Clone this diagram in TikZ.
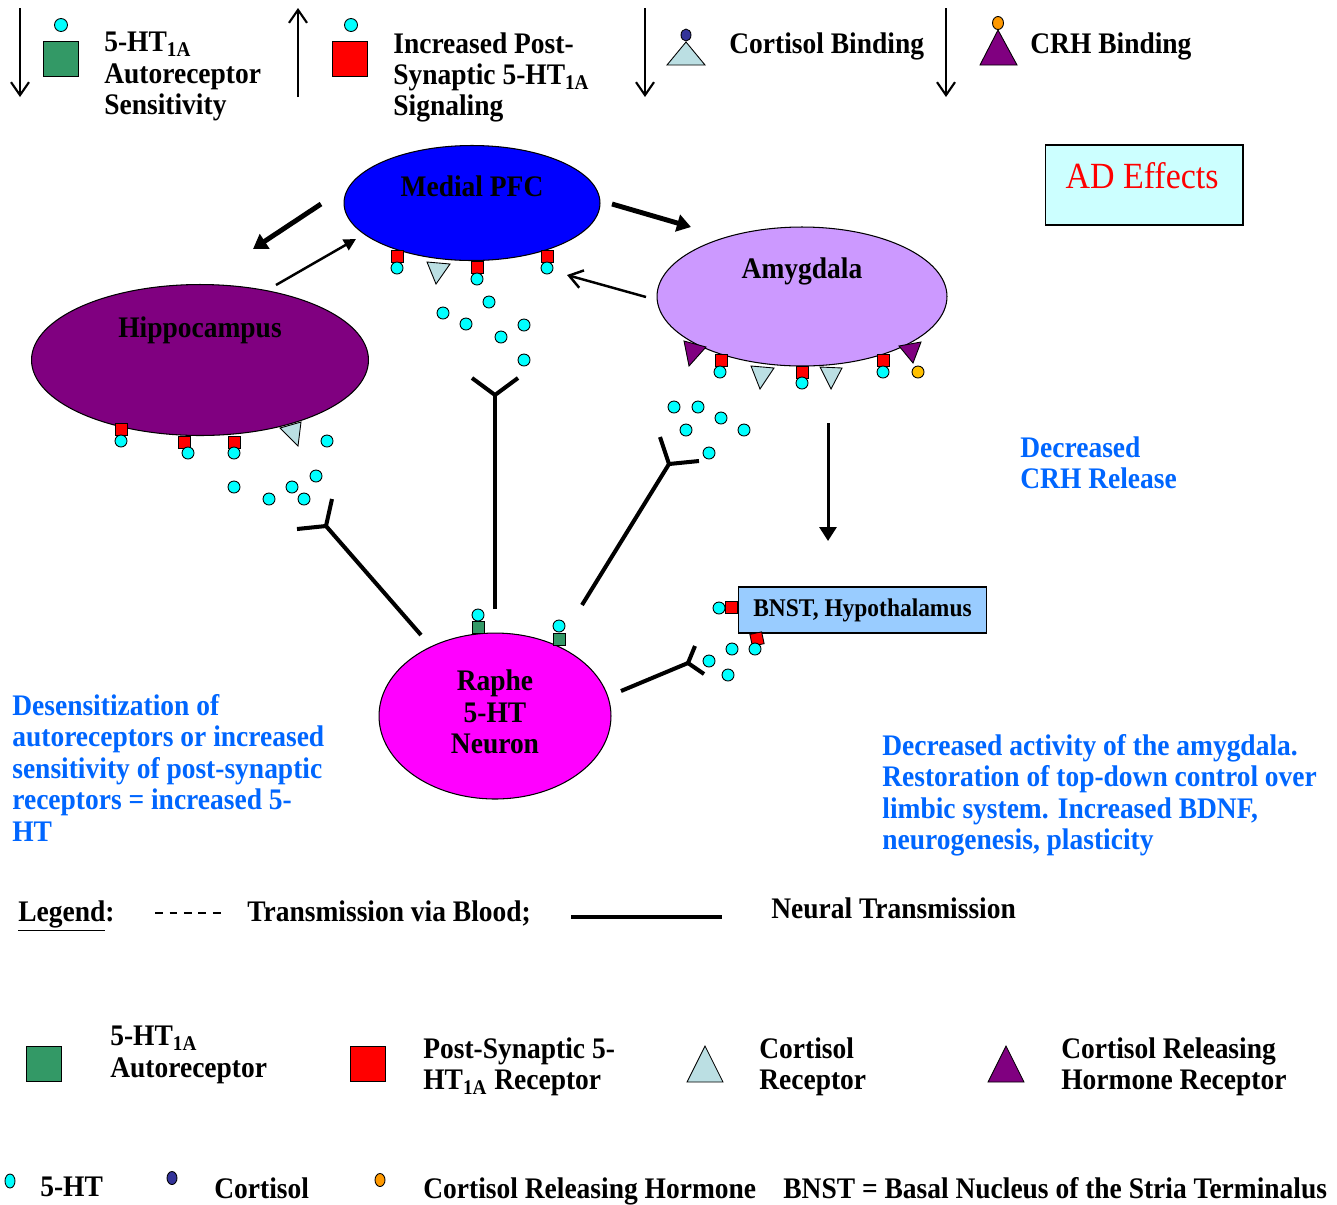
\documentclass[tikz,border=0pt]{standalone}
\usepackage{fontspec}
\setmainfont{Liberation Serif}[FakeStretch=0.92]
\usetikzlibrary{
    arrows.meta,
    positioning,
    shapes.geometric
}
\definecolor{pfcblue}{HTML}{0000FF}
\definecolor{hippopurple}{HTML}{800080}
\definecolor{amylilac}{HTML}{CC99FF}
\definecolor{raphepink}{HTML}{FF00FF}
\definecolor{bnstblue}{HTML}{99CCFF}
\definecolor{adcyan}{HTML}{CCFFFF}
\definecolor{autogreen}{HTML}{339966}
\definecolor{postred}{HTML}{FF0000}
\definecolor{cortblue}{HTML}{BBDFE3}
\definecolor{crhpurple}{HTML}{800080}
\definecolor{htcyan}{HTML}{00FFFF}
\definecolor{cortdot}{HTML}{333399}
\definecolor{crhdot}{HTML}{FF9900}
\definecolor{crhgold}{HTML}{FFC000}
\definecolor{effectblue}{HTML}{0066FF}
\tikzset{
    % Brain regions
    region/.style={ellipse,draw,line width=0.6pt,inner sep=0pt},
    areabox/.style={rectangle,draw,line width=0.6pt,inner sep=0pt},
    %
    % Receptors and transmitters
    ht/.style={circle,draw,line width=0.5pt,fill=htcyan,inner sep=0pt,minimum size=0.24cm},
    autorec/.style={rectangle,draw,line width=0.5pt,fill=autogreen,inner sep=0pt,minimum size=0.24cm},
    postrec/.style={autorec,fill=postred},
    cortrec/.style={draw,line width=0.5pt,fill=cortblue},
    crhrec/.style={draw,line width=0.5pt,fill=crhpurple},
    bigrec/.style={minimum size=0.7cm},
    %
    % Text
    txt/.style={anchor=north west,inner sep=0pt,align=left},
    effect/.style={txt,text=effectblue},
    %
    % Arrows
    fat tip/.tip={Triangle[length=2.8mm,width=3.4mm]},
    small tip/.tip={Triangle[length=2.4mm,width=2.4mm]},
    open tip/.tip={Straight Barb[length=2.6mm,width=3.6mm]},
    fat arr/.style={-{fat tip},line width=2.8pt},
    thin arr/.style={-{small tip},line width=1.4pt},
    open arr/.style={-{open tip},line width=1.4pt},
    down arr/.style={-{fat tip},line width=1.7pt},
    key arr/.style={-{open tip},line width=1.2pt},
    neural/.style={line width=2.3pt}
}
\tikzstyle{every node}=[font=\bfseries\fontsize{17}{17.9}\selectfont]

\begin{document}
\begin{tikzpicture}[x=0.02cm,y=-0.02cm]
    \useasboundingbox (0,0) rectangle (1337,1204);
    % AD effect key
    \draw[key arr] (20,8) -- (20,97);
    \node[autorec,bigrec] (autokey) at (61,59) {};
    \node[ht,minimum size=0.26cm] (autokey ht) at (61,25) {};
    \node[txt] (autokey text) at (104,32) {5-HT\textsubscript{1A}\\Autoreceptor\\Sensitivity};
    \draw[key arr] (298,97) -- (298,8);
    \node[postrec,bigrec] (postkey) at (350,59) {};
    \node[ht,minimum size=0.26cm] (postkey ht) at (351,25) {};
    \node[txt] (postkey text) at (393,32) {Increased Post-\\Synaptic 5-HT\textsubscript{1A}\\Signaling};
    \draw[key arr] (645,8) -- (645,97);
    \draw[cortrec] (686,42) -- (705,65) -- (667,65) -- cycle;
    \node[ellipse,draw,line width=0.5pt,fill=cortdot,inner sep=0pt,minimum width=0.2cm,minimum height=0.24cm] (cortkey dot) at (686,35) {};
    \node[txt] (cortkey text) at (729,32) {Cortisol Binding};
    \draw[key arr] (946,8) -- (946,97);
    \draw[crhrec] (998,30) -- (1017,65) -- (980,65) -- cycle;
    \node[ellipse,draw,line width=0.5pt,fill=crhdot,inner sep=0pt,minimum width=0.22cm,minimum height=0.26cm] (crhkey dot) at (998,23) {};
    \node[txt] (crhkey text) at (1030,32) {CRH Binding};
    %
    \node[areabox,fill=adcyan,minimum width=3.96cm,minimum height=1.6cm] (ad) at (1144,185) {};
    \node[text=red,font=\fontsize{21}{24}\selectfont] (ad label) at (1142,176) {AD Effects};
    %
    % Regions
    \node[region,fill=pfcblue,minimum width=5.12cm,minimum height=2.3cm] (pfc) at (472,203) {};
    \node (pfc label) at (472,186) {Medial PFC};
    \node[region,fill=hippopurple,minimum width=6.74cm,minimum height=3.02cm] (hip) at (200,360) {};
    \node (hip label) at (200,330) {Hippocampus};
    \node[region,fill=amylilac,minimum width=5.8cm,minimum height=2.78cm] (amy) at (802,296.5) {};
    \node (amy label) at (802,271) {Amygdala};
    \node[region,fill=raphepink,minimum width=4.64cm,minimum height=3.32cm] (raphe) at (495,716) {};
    \node[align=center] (raphe label) at (495,712) {Raphe\\5-HT\\Neuron};
    \node[areabox,fill=bnstblue,minimum width=4.96cm,minimum height=0.92cm,font=\bfseries\fontsize{14.5}{16}\selectfont] (bnst) at (862.5,610) {BNST, Hypothalamus};
    %
    % Arrows between regions
    \coordinate (pfc hip a) at (321,204);
    \coordinate (pfc hip b) at (253,249);
    \coordinate (hip pfc a) at (276,285);
    \coordinate (hip pfc b) at (356,239);
    \coordinate (pfc amy a) at (612,204);
    \coordinate (pfc amy b) at (691,227);
    \coordinate (amy pfc a) at (646,297);
    \coordinate (amy pfc b) at (567,275);
    \coordinate (amy bnst a) at (828,423);
    \coordinate (amy bnst b) at (828,541);
    \draw[fat arr] (pfc hip a) -- (pfc hip b);
    \draw[thin arr] (hip pfc a) -- (hip pfc b);
    \draw[fat arr] (pfc amy a) -- (pfc amy b);
    \draw[open arr] (amy pfc a) -- (amy pfc b);
    \draw[down arr] (amy bnst a) -- (amy bnst b);
    %
    % Receptors on the medial PFC
    \node[postrec] (pfc r1) at (397,256) {};
    \node[ht] (pfc r1 ht) at (397,268) {};
    \draw[cortrec] (427,262) -- (450,264) -- (436,284) -- cycle;
    \node[postrec] (pfc r2) at (477,267) {};
    \node[ht] (pfc r2 ht) at (477,279) {};
    \node[postrec] (pfc r3) at (547,256) {};
    \node[ht] (pfc r3 ht) at (547,268) {};
    \foreach \p [count=\i] in {(489,302),(443,313),(466,324),(524,325),(501,337),(524,360)}
        \node[ht] (pfc ht\i) at \p {};
    %
    % Receptors on the hippocampus
    \node[postrec] (hip r1) at (121,429) {};
    \node[ht] (hip r1 ht) at (121,441) {};
    \node[postrec] (hip r2) at (184,442) {};
    \node[ht] (hip r2 ht) at (188,453) {};
    \node[postrec] (hip r3) at (234,442) {};
    \node[ht] (hip r3 ht) at (234,453) {};
    \draw[cortrec] (280,428) -- (301,422) -- (298,446) -- cycle;
    \foreach \p [count=\i] in {(327,441),(316,476),(234,487),(292,487),(269,499),(304,499)}
        \node[ht] (hip ht\i) at \p {};
    %
    % Receptors on the amygdala
    \draw[crhrec] (684,341) -- (706,347) -- (689,366) -- cycle;
    \node[postrec] (amy r1) at (721,360) {};
    \node[ht] (amy r1 ht) at (720,372) {};
    \draw[cortrec] (751,366) -- (774,368) -- (760,389) -- cycle;
    \node[postrec] (amy r2) at (802,372) {};
    \node[ht] (amy r2 ht) at (802,383) {};
    \draw[cortrec] (820,367) -- (842,368) -- (831,389) -- cycle;
    \node[postrec] (amy r3) at (883,360) {};
    \node[ht] (amy r3 ht) at (883,372) {};
    \draw[crhrec] (899,346) -- (921,342) -- (913,363) -- cycle;
    \node[ht,fill=crhgold] (amy crh) at (918,372) {};
    \foreach \p [count=\i] in {(674,407),(698,407),(721,418),(686,430),(744,430),(709,453)}
        \node[ht] (amy ht\i) at \p {};
    %
    % Receptors on BNST and raphe
    \node[postrec] (bnst r1) at (731,607) {};
    \node[ht] (bnst r1 ht) at (719,608) {};
    \node[postrec,rotate=12] (bnst r2) at (757,639) {};
    \node[ht] (bnst r2 ht) at (755,649) {};
    \foreach \p [count=\i] in {(732,649),(709,661),(728,675)}
        \node[ht] (bnst ht\i) at \p {};
    \node[autorec] (raphe r1) at (478,627) {};
    \node[ht] (raphe r1 ht) at (478,615) {};
    \node[autorec] (raphe r2) at (559,639) {};
    \node[ht] (raphe r2 ht) at (559,626) {};
    %
    % Neural projections from the raphe
    \coordinate (to hip) at (421,635);
    \coordinate (hip term) at (326,526);
    \coordinate (to pfc) at (495,609);
    \coordinate (pfc term) at (495,395);
    \coordinate (to amy) at (582,605);
    \coordinate (amy term) at (669,464);
    \coordinate (to bnst) at (621,691);
    \coordinate (bnst term) at (688,663);
    \draw[neural] (to hip) -- (hip term);
    \draw[neural] (297,529) -- (hip term) -- (332,499);
    \draw[neural] (to pfc) -- (pfc term);
    \draw[neural] (472,378) -- (pfc term) -- (518,378);
    \draw[neural] (to amy) -- (amy term);
    \draw[neural] (660,437) -- (amy term) -- (699,461);
    \draw[neural] (to bnst) -- (bnst term);
    \draw[neural] (695,646) -- (bnst term) -- (704,674);
    %
    % Effects
    \node[effect] (crh effect) at (1020,436) {Decreased\\CRH Release};
    \node[effect] (ht effect) at (12,694) {Desensitization of\\autoreceptors or increased\\sensitivity of post-synaptic\\receptors = increased 5-\\HT};
    \node[effect] (amy effect) at (882,734) {Decreased activity of the amygdala.\\Restoration of top-down control over\\limbic system. Increased BDNF,\\neurogenesis, plasticity};
    %
    % Legend
    \node[txt] (legend) at (18,900) {\underline{Legend}:};
    \draw[line width=0.9pt,dash pattern=on 1.6mm off 1.3mm] (155,913) -- (225,913);
    \node[txt] (blood) at (247,900) {Transmission via Blood;};
    \draw[line width=2.8pt] (571,917) -- (722,917);
    \node[txt] (neural key) at (771,897) {Neural Transmission};
    \node[autorec,bigrec] (auto legend) at (43.5,1064) {};
    \node[txt] (auto legend text) at (110,1026) {5-HT\textsubscript{1A}\\Autoreceptor};
    \node[postrec,bigrec] (post legend) at (368,1064) {};
    \node[txt] (post legend text) at (423,1037) {Post-Synaptic 5-\\HT\textsubscript{1A} Receptor};
    \draw[cortrec] (705,1046) -- (723,1082) -- (687,1082) -- cycle;
    \node[txt] (cort legend text) at (759,1037) {Cortisol\\Receptor};
    \draw[crhrec] (1006,1046) -- (1024,1082) -- (988,1082) -- cycle;
    \node[txt] (crh legend text) at (1061,1037) {Cortisol Releasing\\Hormone Receptor};
    %
    \node[ellipse,draw,line width=0.5pt,fill=htcyan,inner sep=0pt,minimum width=0.2cm,minimum height=0.28cm] (ht legend) at (10,1181) {};
    \node[txt] (ht legend text) at (40,1177) {5-HT};
    \node[ellipse,draw,line width=0.5pt,fill=cortdot,inner sep=0pt,minimum width=0.2cm,minimum height=0.26cm] (cort legend) at (172,1178) {};
    \node[txt] (cort legend name) at (214,1177) {Cortisol};
    \node[ellipse,draw,line width=0.5pt,fill=crhdot,inner sep=0pt,minimum width=0.2cm,minimum height=0.26cm] (crh legend) at (380,1180) {};
    \node[txt] (crh legend name) at (423,1177) {Cortisol Releasing Hormone};
    \node[txt] (bnst legend) at (783,1177) {BNST = Basal Nucleus of the Stria Terminalus};
\end{tikzpicture}
\end{document}
